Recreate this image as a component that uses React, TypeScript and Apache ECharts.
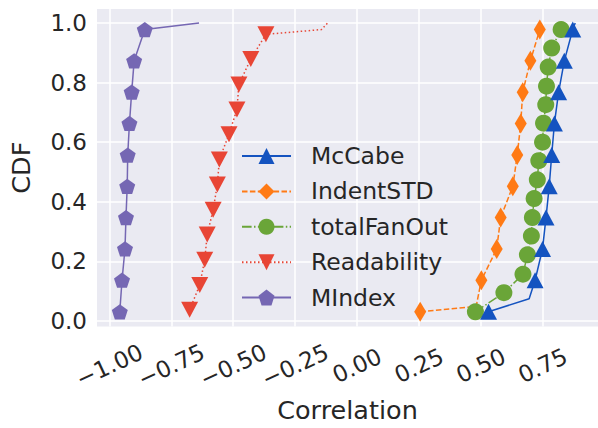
import React, { useEffect, useRef } from "react";
import * as echarts from "echarts";

// Tick values
const xTicks = [-1.0, -0.75, -0.5, -0.25, 0.0, 0.25, 0.5, 0.75];
const yTicks = [0.0, 0.2, 0.4, 0.6, 0.8, 1.0];

// CDF levels of the marked points
const levels10 = [0.031, 0.137, 0.242, 0.347, 0.452, 0.557, 0.663, 0.768, 0.873, 0.978];
const levelsReadability = [0.038, 0.121, 0.206, 0.29, 0.373, 0.458, 0.542, 0.627, 0.71, 0.794, 0.879, 0.962];
const levelsFanOut = [0.031, 0.095, 0.157, 0.222, 0.285, 0.347, 0.411, 0.474, 0.538, 0.6, 0.664, 0.726, 0.788, 0.852, 0.916, 0.978];

// Correlation values at the marked points
const mcCabeX = [0.531, 0.719, 0.749, 0.763, 0.776, 0.786, 0.797, 0.814, 0.837, 0.871];
const indentX = [0.255, 0.502, 0.564, 0.58, 0.629, 0.647, 0.661, 0.669, 0.7, 0.738];
const fanOutX = [0.478, 0.593, 0.67, 0.688, 0.704, 0.708, 0.715, 0.728, 0.734, 0.749, 0.753, 0.762, 0.765, 0.772, 0.786, 0.824];
const readabilityX = [-0.676, -0.635, -0.615, -0.605, -0.581, -0.564, -0.556, -0.517, -0.485, -0.477, -0.429, -0.368];
const mIndexX = [-0.958, -0.949, -0.937, -0.933, -0.928, -0.926, -0.919, -0.91, -0.9, -0.857];

// Unmarked line points [correlation, cdf]
const mcCabeLine = [[0.695, 0.075], [0.881, 1.0]];
const indentLine = [[0.481, 0.049]];
const fanOutLine: number[][] = [];
const readabilityLine = [[-0.143, 0.978], [-0.119, 1.0]];
const mIndexLine = [[-0.638, 1.0]];

const names = ["McCabe", "IndentSTD", "totalFanOut", "Readability", "MIndex"];
const colors = ["#1453c0", "#ff7a15", "#6aa538", "#e84535", "#7567b3"];

const FONT = "DejaVu Sans";
const TEXT = "#262626";

function build(xs: number[], ys: number[], extra: number[][]) {
  const items: any[] = xs.map((x, i) => ({ value: [x, ys[i]] }));
  extra.forEach((p) => items.push({ value: [p[0], p[1]], symbol: "none" }));
  items.sort((a, b) => a.value[1] - b.value[1]);
  return items;
}

const PENTAGON = "path://M0,-1 L0.951,-0.309 L0.588,0.809 L-0.588,0.809 L-0.951,-0.309 Z";
const TRI_DOWN = "path://M-1,-1 L1,-1 L0,1 Z";
const TRI_UP = "path://M0,-1 L1,1 L-1,1 Z";

export default function App() {
  const ref = useRef<HTMLDivElement>(null);
  useEffect(() => {
    if (!ref.current) return;
    const chart = echarts.init(ref.current, null, { renderer: "svg" });
    const lw = 1.5;
    const seriesDefs = [
      { x: mcCabeX, y: levels10, extra: mcCabeLine, symbol: TRI_UP, size: [17, 16], dash: "solid" as any, z: 7 },
      { x: indentX, y: levels10, extra: indentLine, symbol: "diamond", size: [12, 20], dash: [5.5, 2.4], z: 3 },
      { x: fanOutX, y: levelsFanOut, extra: fanOutLine, symbol: "circle", size: 17, dash: [9.6, 2.4, 1.5, 2.4], z: 4 },
      { x: readabilityX, y: levelsReadability, extra: readabilityLine, symbol: TRI_DOWN, size: [17, 16], dash: [1.5, 2.5], z: 5 },
      { x: mIndexX, y: levels10, extra: mIndexLine, symbol: PENTAGON, size: [16, 15.2], dash: "solid" as any, z: 6 },
    ];
    const series = seriesDefs.map((d, i) => ({
      name: names[i],
      type: "line",
      data: build(d.x, d.y, d.extra),
      symbol: d.symbol,
      symbolSize: d.size,
      showAllSymbol: true,
      z: d.z,
      color: colors[i],
      itemStyle: { color: colors[i], opacity: 1, borderWidth: 0 },
      lineStyle: { color: colors[i], width: lw, type: d.dash },
      emphasis: { disabled: true },
      clip: false,
    }));
    chart.setOption({
      animation: false,
      backgroundColor: "#ffffff",
      textStyle: { fontFamily: FONT },
      grid: {
        left: 96,
        top: 9,
        width: 503.6,
        height: 324.3,
        show: true,
        backgroundColor: "#eaeaf2",
        borderWidth: 0,
        containLabel: false,
      },
      legend: {
        orient: "vertical",
        left: 241,
        top: 144,
        itemWidth: 49,
        itemHeight: 20,
        itemGap: 11.4,
        padding: 0,
        data: names,
        textStyle: {
          fontFamily: FONT,
          fontSize: 23.5,
          color: TEXT,
          lineHeight: 24,
          padding: [0, 0, 0, 15],
        },
      },
      xAxis: {
        type: "value",
        min: -1.05,
        max: 0.973,
        name: "Correlation",
        nameLocation: "middle",
        nameGap: 60,
        nameTextStyle: { fontFamily: FONT, fontSize: 25.5, color: TEXT },
        axisLine: { show: false },
        axisTick: { show: false, customValues: xTicks },
        axisLabel: {
          customValues: xTicks,
          rotate: 25,
          align: "center",
          verticalAlign: "middle",
          margin: 39,
          fontFamily: FONT,
          fontSize: 23,
          color: TEXT,
          formatter: (v: number) => (v < 0 ? "\u2212" : "") + Math.abs(v).toFixed(2),
        },
        splitLine: { show: true, lineStyle: { color: "#ffffff", width: 1.5 } },
      },
      yAxis: {
        type: "value",
        min: -0.0184,
        max: 1.047,
        name: "CDF",
        nameLocation: "middle",
        nameGap: 63,
        nameRotate: 90,
        nameTextStyle: { fontFamily: FONT, fontSize: 25.5, color: TEXT },
        axisLine: { show: false },
        axisTick: { show: false, customValues: yTicks },
        axisLabel: {
          customValues: yTicks,
          margin: 10,
          fontFamily: FONT,
          fontSize: 23,
          color: TEXT,
          formatter: (v: number) => v.toFixed(1),
        },
        splitLine: { show: true, lineStyle: { color: "#ffffff", width: 1.5 } },
      },
      series,
    });
    return () => chart.dispose();
  }, []);
  return (
    <div
      ref={ref}
      style={{ position: "fixed", left: 0, top: 0, width: 598, height: 428 }}
    />
  );
}
